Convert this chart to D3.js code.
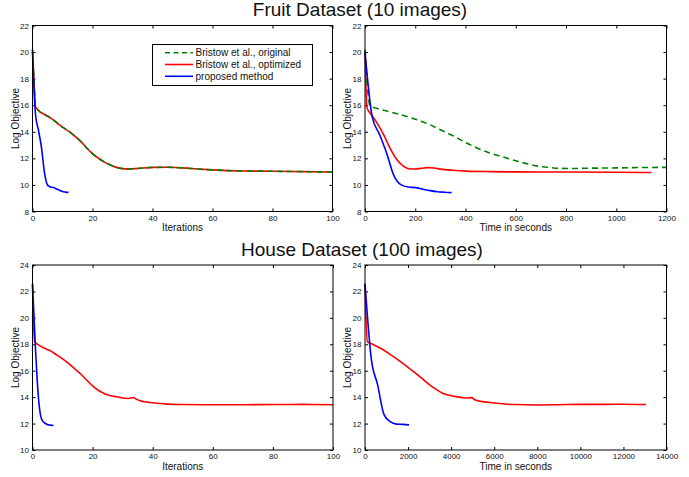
<!DOCTYPE html>
<html><head><meta charset="utf-8">
<script src="https://cdn.jsdelivr.net/npm/d3@7"></script>
<style>body{margin:0;background:#fff} svg{display:block} text{font-family:"Liberation Sans",Arial,sans-serif;fill:#111}</style>
</head><body><svg id="c" width="689" height="477"></svg>
<script>
// ---------- Data ----------
const seriesNames = ["Bristow et al., original", "Bristow et al., optimized", "proposed method"];
const titles = ["Fruit Dataset (10 images)", "House Dataset (100 images)"];

// Fruit, iterations
const fruitIterX = [0, 0.5, 1, 2, 4, 6, 8, 10, 12, 14, 16, 18, 20, 22, 24, 26, 28, 30, 32, 35, 40, 45, 50, 55, 60, 65, 70, 80, 90, 100];
const fruitIterOriginal = [20.2, 17.8, 15.9, 15.6, 15.3, 15.05, 14.7, 14.35, 14.05, 13.7, 13.3, 12.8, 12.35, 12.0, 11.72, 11.5, 11.32, 11.23, 11.21, 11.24, 11.32, 11.33, 11.28, 11.2, 11.13, 11.08, 11.05, 11.03, 11.0, 10.97];
const fruitIterOptimized = [20.2, 17.8, 15.9, 15.6, 15.3, 15.05, 14.7, 14.35, 14.05, 13.7, 13.3, 12.8, 12.35, 12.0, 11.72, 11.5, 11.32, 11.23, 11.21, 11.24, 11.32, 11.33, 11.28, 11.2, 11.13, 11.08, 11.05, 11.03, 11.0, 10.97];
const fruitIterProposedX = [0, 1, 2, 3, 4, 5, 6, 7, 8, 9, 10, 11, 12];
const fruitIterProposed = [20.0, 15.3, 14.1, 12.8, 10.9, 10.0, 9.85, 9.8, 9.7, 9.6, 9.5, 9.46, 9.44];

// Fruit, time (seconds)
const fruitTimeOriginalX = [0, 20, 50, 100, 150, 200, 250, 300, 350, 400, 450, 500, 550, 600, 650, 700, 750, 800, 850, 900, 1000, 1100, 1200];
const fruitTimeOriginal = [20.2, 15.95, 15.75, 15.5, 15.25, 14.95, 14.6, 14.15, 13.7, 13.2, 12.75, 12.38, 12.1, 11.82, 11.57, 11.38, 11.28, 11.24, 11.24, 11.26, 11.28, 11.31, 11.32];
const fruitTimeOptimizedX = [0, 8, 25, 50, 75, 100, 125, 150, 175, 200, 225, 250, 275, 300, 350, 400, 500, 600, 800, 1000, 1140];
const fruitTimeOptimized = [20.0, 15.8, 15.3, 14.6, 13.75, 12.75, 11.95, 11.45, 11.22, 11.2, 11.25, 11.3, 11.27, 11.19, 11.1, 11.04, 11.0, 10.98, 10.97, 10.95, 10.93];
const fruitTimeProposedX = [0, 29, 58, 86, 115, 144, 173, 201, 230, 259, 288, 316, 345];
const fruitTimeProposed = [20.0, 15.1, 13.8, 12.4, 10.7, 10.0, 9.84, 9.8, 9.68, 9.57, 9.49, 9.45, 9.42];

// House, iterations
const houseIterX = [0, 0.7, 2, 4, 6, 8, 10, 12, 14, 16, 18, 20, 22, 24, 26, 28, 30, 32, 33.5, 34.5, 36, 38, 40, 45, 50, 60, 70, 80, 90, 100];
const houseIterOptimized = [22.5, 18.2, 17.95, 17.7, 17.5, 17.2, 16.9, 16.55, 16.15, 15.75, 15.3, 14.85, 14.5, 14.25, 14.1, 14.03, 13.93, 13.9, 13.97, 13.85, 13.7, 13.63, 13.57, 13.47, 13.44, 13.42, 13.43, 13.44, 13.45, 13.43];
const houseIterProposedX = [0, 1, 2, 3, 4, 5, 6, 7];
const houseIterProposed = [22.6, 17.6, 13.9, 12.35, 12.05, 11.92, 11.88, 11.85];

// House, time (seconds)
const houseTimeOptimizedX = [0, 110, 400, 800, 1200, 1600, 2000, 2400, 2800, 3200, 3600, 4000, 4400, 4750, 4950, 5100, 5300, 5800, 6500, 7000, 8000, 9000, 10000, 11000, 12000, 13050];
const houseTimeOptimized = [22.5, 18.2, 17.97, 17.62, 17.2, 16.75, 16.25, 15.75, 15.2, 14.7, 14.3, 14.1, 14.0, 13.93, 13.96, 13.8, 13.7, 13.6, 13.48, 13.44, 13.41, 13.43, 13.45, 13.45, 13.46, 13.44];
const houseTimeProposedX = [0, 292, 584, 877, 1169, 1461, 1754, 2046];
const houseTimeProposed = [22.6, 16.9, 14.95, 12.7, 12.15, 11.96, 11.94, 11.9];

// Ticks
const iterTicks = [0, 20, 40, 60, 80, 100];
const fruitTimeTicks = [0, 200, 400, 600, 800, 1000, 1200];
const houseTimeTicks = [0, 2000, 4000, 6000, 8000, 10000, 12000, 14000];
const fruitYTicks = [8, 10, 12, 14, 16, 18, 20, 22];
const houseYTicks = [10, 12, 14, 16, 18, 20, 22, 24];
const xLabels = ["Iterations", "Time in seconds"];
const yLabel = "Log Objective";

// ---------- Drawing ----------
const svg = d3.select('#c');
svg.append('rect').attr('width', 689).attr('height', 477).attr('fill', '#fff');
const colors = { original: '#008000', optimized: '#ff0000', proposed: '#0000ff' };
const fmt = d3.format('d');

function zip(xs, ys) { return xs.map((x, i) => [x, ys[i]]); }

function panel(cfg) {
  const x = d3.scaleLinear().domain(cfg.xDomain).range([cfg.left, cfg.right]);
  const y = d3.scaleLinear().domain(cfg.yDomain).range([cfg.bottom, cfg.top]);
  const g = svg.append('g');
  const styleAxis = sel => {
    sel.selectAll('.domain').remove();
    sel.selectAll('line').attr('stroke', '#000');
    sel.selectAll('text').attr('font-size', 8).attr('fill', '#111')
      .attr('font-family', '"Liberation Sans",Arial,sans-serif');
  };
  g.append('g').attr('transform', `translate(0,${cfg.bottom})`)
    .call(d3.axisBottom(x).tickValues(cfg.xTicks).tickFormat(fmt).tickSizeInner(-3).tickSizeOuter(0).tickPadding(3.5))
    .call(styleAxis);
  g.append('g').attr('transform', `translate(0,${cfg.top})`)
    .call(d3.axisTop(x).tickValues(cfg.xTicks).tickSizeInner(-3).tickSizeOuter(0).tickFormat(''))
    .call(styleAxis);
  g.append('g').attr('transform', `translate(${cfg.left},0)`)
    .call(d3.axisLeft(y).tickValues(cfg.yTicks).tickFormat(fmt).tickSizeInner(-3).tickSizeOuter(0).tickPadding(3.5))
    .call(styleAxis);
  g.append('g').attr('transform', `translate(${cfg.right},0)`)
    .call(d3.axisRight(y).tickValues(cfg.yTicks).tickSizeInner(-3).tickSizeOuter(0).tickFormat(''))
    .call(styleAxis);

  const line = d3.line().x(d => x(d[0])).y(d => y(d[1])).curve(d3.curveMonotoneX);
  cfg.series.forEach(s => {
    g.append('path').attr('d', line(s.data)).attr('fill', 'none')
      .attr('stroke', s.color).attr('stroke-width', 1.6)
      .attr('stroke-dasharray', s.dash || null).attr('stroke-linejoin', 'round');
  });

  g.append('rect').attr('x', cfg.left).attr('y', cfg.top)
    .attr('width', cfg.right - cfg.left).attr('height', cfg.bottom - cfg.top)
    .attr('fill', 'none').attr('stroke', '#000').attr('stroke-width', 1);

  g.append('text').attr('x', (cfg.left + cfg.right) / 2).attr('y', cfg.bottom + 19.5)
    .attr('text-anchor', 'middle').attr('font-size', 10).text(cfg.xLabel);
  g.append('text').attr('transform', `translate(${cfg.left - 14},${(cfg.top + cfg.bottom) / 2}) rotate(-90)`)
    .attr('text-anchor', 'middle').attr('font-size', 10).text(yLabel);
  return { x, y, g };
}

// Top-left
panel({
  left: 32.5, right: 332.5, top: 25.5, bottom: 211.5,
  xDomain: [0, 100], yDomain: [8, 22], xTicks: iterTicks, yTicks: fruitYTicks, xLabel: xLabels[0],
  series: [
    { data: zip(fruitIterX, fruitIterOptimized), color: colors.optimized },
    { data: zip(fruitIterX, fruitIterOriginal), color: colors.original, dash: '6,4' },
    { data: zip(fruitIterProposedX, fruitIterProposed), color: colors.proposed }
  ]
});
// Top-right
panel({
  left: 365, right: 666.5, top: 25.5, bottom: 211.5,
  xDomain: [0, 1200], yDomain: [8, 22], xTicks: fruitTimeTicks, yTicks: fruitYTicks, xLabel: xLabels[1],
  series: [
    { data: zip(fruitTimeOptimizedX, fruitTimeOptimized), color: colors.optimized },
    { data: zip(fruitTimeOriginalX, fruitTimeOriginal), color: colors.original, dash: '6,4' },
    { data: zip(fruitTimeProposedX, fruitTimeProposed), color: colors.proposed }
  ]
});
// Bottom-left
panel({
  left: 32.5, right: 333, top: 265, bottom: 450,
  xDomain: [0, 100], yDomain: [10, 24], xTicks: iterTicks, yTicks: houseYTicks, xLabel: xLabels[0],
  series: [
    { data: zip(houseIterX, houseIterOptimized), color: colors.optimized },
    { data: zip(houseIterProposedX, houseIterProposed), color: colors.proposed }
  ]
});
// Bottom-right
panel({
  left: 365, right: 666.5, top: 265, bottom: 450,
  xDomain: [0, 14000], yDomain: [10, 24], xTicks: houseTimeTicks, yTicks: houseYTicks, xLabel: xLabels[1],
  series: [
    { data: zip(houseTimeOptimizedX, houseTimeOptimized), color: colors.optimized },
    { data: zip(houseTimeProposedX, houseTimeProposed), color: colors.proposed }
  ]
});

// Titles
svg.append('text').attr('x', 360).attr('y', 16).attr('text-anchor', 'middle').attr('font-size', 19).text(titles[0]);
svg.append('text').attr('x', 362).attr('y', 255.5).attr('text-anchor', 'middle').attr('font-size', 19).text(titles[1]);

// Legend (top-left panel)
const lg = svg.append('g');
lg.append('rect').attr('x', 152.5).attr('y', 44.5).attr('width', 160).attr('height', 41)
  .attr('fill', '#fff').attr('stroke', '#000').attr('stroke-width', 1);
const legendItems = [
  { name: seriesNames[0], color: colors.original, dash: '5,3.5' },
  { name: seriesNames[1], color: colors.optimized },
  { name: seriesNames[2], color: colors.proposed }
];
legendItems.forEach((d, i) => {
  const yy = 52.7 + i * 11.8;
  lg.append('line').attr('x1', 165).attr('x2', 193).attr('y1', yy).attr('y2', yy)
    .attr('stroke', d.color).attr('stroke-width', 1.6).attr('stroke-dasharray', d.dash || null);
  lg.append('text').attr('x', 195.5).attr('y', yy).attr('dy', '0.35em').attr('font-size', 10).text(d.name);
});
</script></body></html>
